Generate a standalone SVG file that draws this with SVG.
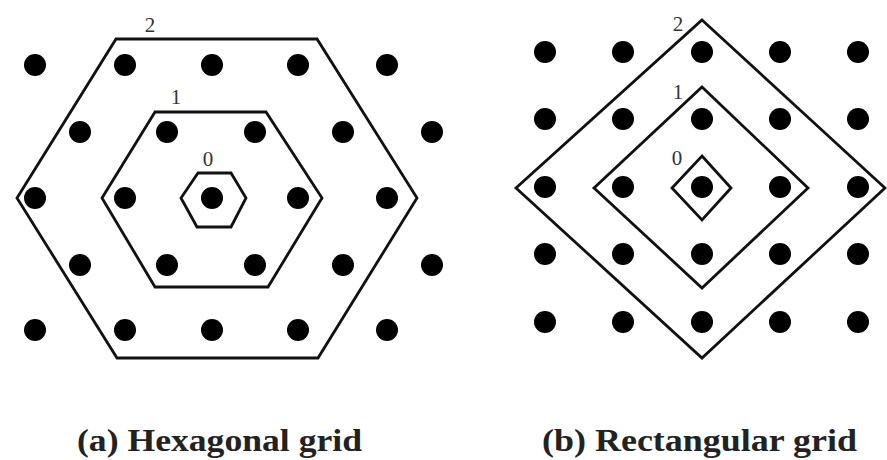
<svg xmlns="http://www.w3.org/2000/svg" width="887" height="460" viewBox="0 0 887 460">
<style>
.dot{fill:#000}
.shape{fill:none;stroke:#111;stroke-width:2.8;stroke-linejoin:miter}
.lbl{font-family:"Liberation Serif",serif;font-size:21px;fill:#333;text-anchor:middle}
.cap{font-family:"Liberation Serif",serif;font-size:31px;font-weight:bold;fill:#222}
</style>
<rect width="887" height="460" fill="#fff"/>
<g id="hex-dots">
<circle class="dot" cx="35" cy="65" r="11"/><circle class="dot" cx="125" cy="65" r="11"/><circle class="dot" cx="212" cy="65" r="11"/><circle class="dot" cx="298" cy="65" r="11"/><circle class="dot" cx="387" cy="65" r="11"/>
<circle class="dot" cx="80" cy="132" r="11"/><circle class="dot" cx="167" cy="132" r="11"/><circle class="dot" cx="255" cy="132" r="11"/><circle class="dot" cx="343" cy="132" r="11"/><circle class="dot" cx="432" cy="132" r="11"/>
<circle class="dot" cx="35" cy="198" r="11"/><circle class="dot" cx="125" cy="198" r="11"/><circle class="dot" cx="212" cy="198" r="11"/><circle class="dot" cx="298" cy="198" r="11"/><circle class="dot" cx="387" cy="198" r="11"/>
<circle class="dot" cx="80" cy="265" r="11"/><circle class="dot" cx="167" cy="265" r="11"/><circle class="dot" cx="255" cy="265" r="11"/><circle class="dot" cx="343" cy="265" r="11"/><circle class="dot" cx="432" cy="265" r="11"/>
<circle class="dot" cx="35" cy="330" r="11"/><circle class="dot" cx="125" cy="330" r="11"/><circle class="dot" cx="212" cy="330" r="11"/><circle class="dot" cx="298" cy="330" r="11"/><circle class="dot" cx="387" cy="330" r="11"/>
</g>
<g id="hex-ring2"><polygon class="shape" points="116,39 317,39 417,198 318,358 117,358 17,198"/><text class="lbl" x="150" y="32">2</text></g>
<g id="hex-ring1"><polygon class="shape" points="155,112 266,112 322,198 268,287 155,287 102,198"/><text class="lbl" x="176" y="104">1</text></g>
<g id="hex-ring0"><polygon class="shape" points="198,173 231,173 246,198 231,227 197,227 181,198"/><text class="lbl" x="208" y="166" fill="#667">0</text></g>
<g id="rect-dots">
<circle class="dot" cx="545" cy="52" r="11"/><circle class="dot" cx="623" cy="52" r="11"/><circle class="dot" cx="702" cy="52" r="11"/><circle class="dot" cx="780" cy="52" r="11"/><circle class="dot" cx="858" cy="52" r="11"/>
<circle class="dot" cx="545" cy="119" r="11"/><circle class="dot" cx="623" cy="119" r="11"/><circle class="dot" cx="702" cy="119" r="11"/><circle class="dot" cx="780" cy="119" r="11"/><circle class="dot" cx="858" cy="119" r="11"/>
<circle class="dot" cx="545" cy="187" r="11"/><circle class="dot" cx="623" cy="187" r="11"/><circle class="dot" cx="702" cy="187" r="11"/><circle class="dot" cx="780" cy="187" r="11"/><circle class="dot" cx="858" cy="187" r="11"/>
<circle class="dot" cx="545" cy="254" r="11"/><circle class="dot" cx="623" cy="254" r="11"/><circle class="dot" cx="702" cy="254" r="11"/><circle class="dot" cx="780" cy="254" r="11"/><circle class="dot" cx="858" cy="254" r="11"/>
<circle class="dot" cx="545" cy="322" r="11"/><circle class="dot" cx="623" cy="322" r="11"/><circle class="dot" cx="702" cy="322" r="11"/><circle class="dot" cx="780" cy="322" r="11"/><circle class="dot" cx="858" cy="322" r="11"/>
</g>
<g id="rect-ring2"><polygon class="shape" points="702,20 885,188 702,358 516,188"/><text class="lbl" x="678" y="31">2</text></g>
<g id="rect-ring1"><polygon class="shape" points="702,87 808,188 702,288 594,188"/><text class="lbl" x="678" y="99">1</text></g>
<g id="rect-ring0"><polygon class="shape" points="702,156 731,188 702,220 672,188"/><text class="lbl" x="677" y="165" fill="#667">0</text></g>
<g id="captions">
<text class="cap" x="77" y="451" textLength="285" lengthAdjust="spacingAndGlyphs">(a) Hexagonal grid</text>
<text class="cap" x="542" y="451" textLength="315" lengthAdjust="spacingAndGlyphs">(b) Rectangular grid</text>
</g>
</svg>
